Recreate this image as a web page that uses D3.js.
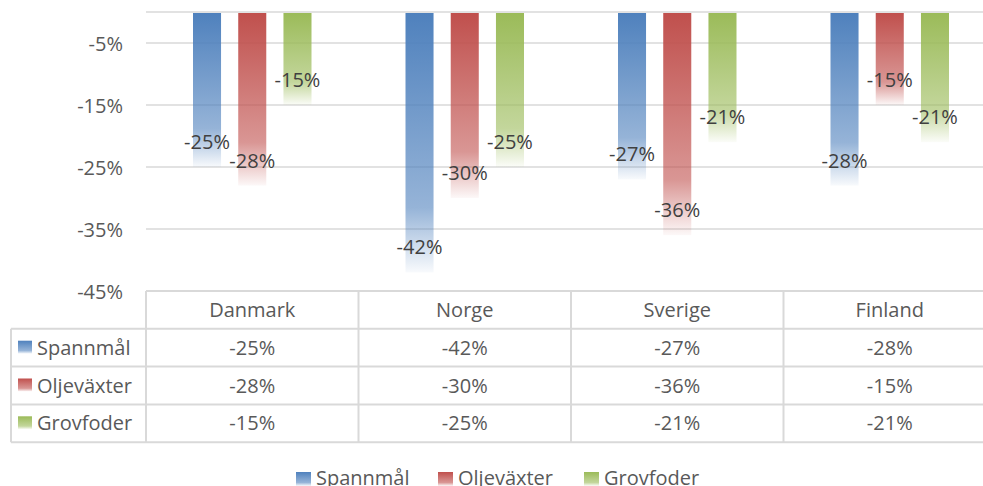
<!DOCTYPE html>
<html lang="sv">
  <head>
    <meta charset="utf-8" />
    <title>Spannmål, oljeväxter och grovfoder</title>
    <script src="https://cdn.jsdelivr.net/npm/d3@7"></script>
    <style>
      body {
        margin: 0;
        background: #fff;
      }
      svg text {
        font-family: "Open Sans", "Noto Sans", sans-serif;
        font-size: 20px;
      }
      .axis text {
        fill: #595959;
      }
      .label {
        fill: #404040;
      }
      .cell {
        fill: #595959;
      }
    </style>
  </head>
  <body>
    <svg id="chart"></svg>
    <script>
      // data
      const countries = ["Danmark", "Norge", "Sverige", "Finland"];
      const series = ["Spannmål", "Oljeväxter", "Grovfoder"];
      const spannmal = [-25, -42, -27, -28];
      const oljevaxter = [-28, -30, -36, -15];
      const grovfoder = [-15, -25, -21, -21];
      const yTicks = [-45, -35, -25, -15, -5];

      const values = [spannmal, oljevaxter, grovfoder];
      const colors = ["#4F81BD", "#C0504D", "#9BBB59"];

      const W = 983, H = 486;
      const plot = { left: 146, right: 996, top: 12, bottom: 291 };
      const rowH = 38;
      const tableLeft = 11;

      const svg = d3.select("#chart").attr("width", W).attr("height", H);

      // gradients, colour fading to white at the bar end
      const defs = svg.append("defs");
      series.forEach((s, i) => {
        const g = defs.append("linearGradient")
          .attr("id", "grad" + i)
          .attr("x1", 0).attr("y1", 0).attr("x2", 0).attr("y2", 1);
        g.append("stop").attr("offset", 0).attr("stop-color", colors[i]).attr("stop-opacity", 1);
        g.append("stop").attr("offset", 0.75).attr("stop-color", colors[i]).attr("stop-opacity", 0.6);
        g.append("stop").attr("offset", 1).attr("stop-color", colors[i]).attr("stop-opacity", 0.04);
      });

      // scales
      const y = d3.scaleLinear().domain([-45, 0]).range([plot.bottom, plot.top]);
      const x0 = d3.scaleBand().domain(countries).range([plot.left, plot.right]);
      const step = x0.bandwidth();
      const x1 = d3.scaleBand().domain(series).range([47, step - 47]).paddingInner(0.38);

      // gridlines
      svg.append("g")
        .selectAll("line")
        .data(yTicks.concat([0]))
        .join("line")
        .attr("x1", plot.left).attr("x2", W)
        .attr("y1", d => y(d)).attr("y2", d => y(d))
        .attr("stroke", "#d9d9d9")
        .attr("stroke-width", 1.5);

      // y axis labels
      const yaxis = d3.axisLeft(y).tickValues(yTicks).tickFormat(d => d + "%").tickSize(0).tickPadding(0);
      svg.append("g")
        .attr("class", "axis")
        .attr("transform", "translate(123,0)")
        .call(yaxis)
        .call(g => g.select(".domain").remove())
        .selectAll("text").attr("dy", "0.35em");

      // bars
      const groups = svg.append("g")
        .selectAll("g")
        .data(countries)
        .join("g")
        .attr("transform", d => `translate(${x0(d)},0)`);

      groups.selectAll("rect")
        .data((c, ci) => series.map((s, si) => ({ s, si, v: values[si][ci] })))
        .join("rect")
        .attr("x", d => x1(d.s))
        .attr("width", x1.bandwidth())
        .attr("y", y(0) + 1)
        .attr("height", d => y(d.v) - y(0) - 1)
        .attr("fill", d => `url(#grad${d.si})`);

      groups.selectAll("text")
        .data((c, ci) => series.map((s, si) => ({ s, si, v: values[si][ci] })))
        .join("text")
        .attr("class", "label")
        .attr("x", d => x1(d.s) + x1.bandwidth() / 2)
        .attr("y", d => y(d.v) - 25)
        .attr("dy", "0.35em")
        .attr("text-anchor", "middle")
        .text(d => d.v + "%");

      // data table
      const table = svg.append("g");
      const border = "#d9d9d9";
      const rowsY = d3.range(5).map(i => plot.bottom + i * 37.8);

      // horizontal lines
      table.append("line")
        .attr("x1", plot.left).attr("x2", W)
        .attr("y1", rowsY[0]).attr("y2", rowsY[0])
        .attr("stroke", border).attr("stroke-width", 2);
      table.selectAll("line.h")
        .data(rowsY.slice(1))
        .join("line")
        .attr("class", "h")
        .attr("x1", tableLeft).attr("x2", W)
        .attr("y1", d => d).attr("y2", d => d)
        .attr("stroke", border).attr("stroke-width", 2);

      // vertical lines
      table.append("line")
        .attr("x1", tableLeft).attr("x2", tableLeft)
        .attr("y1", rowsY[1]).attr("y2", rowsY[4])
        .attr("stroke", border).attr("stroke-width", 2);
      table.selectAll("line.v")
        .data(countries)
        .join("line")
        .attr("class", "v")
        .attr("x1", d => x0(d)).attr("x2", d => x0(d))
        .attr("y1", rowsY[0]).attr("y2", rowsY[4])
        .attr("stroke", border).attr("stroke-width", 2);

      // header
      table.selectAll("text.head")
        .data(countries)
        .join("text")
        .attr("class", "cell head")
        .attr("x", d => x0(d) + step / 2)
        .attr("y", (rowsY[0] + rowsY[1]) / 2)
        .attr("dy", "0.35em")
        .attr("text-anchor", "middle")
        .text(d => d);

      series.forEach((s, si) => {
        const cy = (rowsY[si + 1] + rowsY[si + 2]) / 2;
        table.append("rect")
          .attr("x", 18).attr("y", cy - 7)
          .attr("width", 14).attr("height", 13)
          .attr("fill", `url(#grad${si})`);
        table.append("text")
          .attr("class", "cell")
          .attr("x", 37).attr("y", cy)
          .attr("dy", "0.35em")
          .text(s);
        table.selectAll("text.r" + si)
          .data(values[si])
          .join("text")
          .attr("class", "cell r" + si)
          .attr("x", (d, i) => x0(countries[i]) + step / 2)
          .attr("y", cy)
          .attr("dy", "0.35em")
          .attr("text-anchor", "middle")
          .text(d => d + "%");
      });

      // legend
      const legendX = [296, 438, 584];
      const legend = svg.append("g")
        .selectAll("g")
        .data(series)
        .join("g")
        .attr("transform", (d, i) => `translate(${legendX[i]},0)`);
      legend.append("rect")
        .attr("y", 472).attr("width", 15).attr("height", 14)
        .attr("fill", (d, i) => `url(#grad${i})`);
      legend.append("text")
        .attr("class", "cell")
        .attr("x", 20).attr("y", 485)
        .text(d => d);
    </script>
  </body>
</html>
